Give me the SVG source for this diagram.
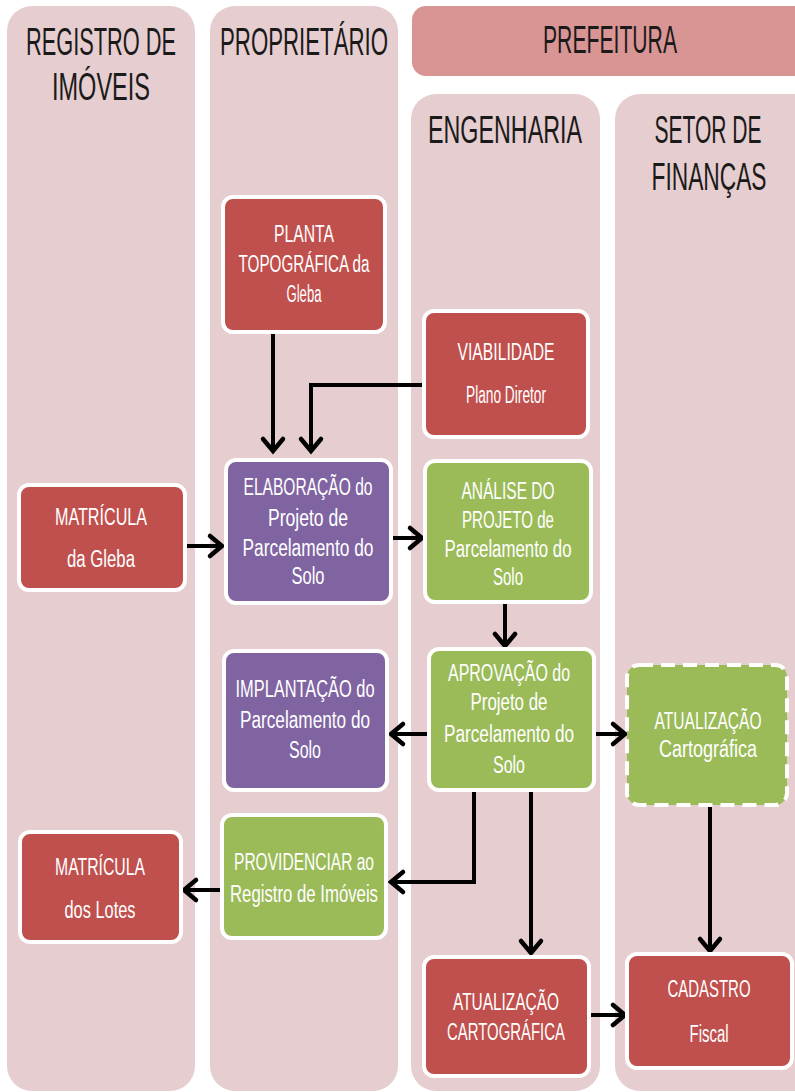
<svg xmlns="http://www.w3.org/2000/svg" width="795" height="1092" viewBox="0 0 795 1092">
<style>
.lane{fill:#e6cdcf}
.hdr{fill:#d99594}
.ht{font-family:"Liberation Sans Narrow","Liberation Sans",sans-serif;font-size:28px;fill:#1a1a1a;text-anchor:middle}
.node rect{stroke:#fff;stroke-width:4}
.red{fill:#c0504d}
.green{fill:#9bbb59}
.purple{fill:#8064a2}
.dash{stroke-dasharray:14 8}
.nt{font-family:"Liberation Sans Narrow","Liberation Sans",sans-serif;font-size:20px;fill:#fff;text-anchor:middle}
.c{fill:none;stroke:#000;stroke-width:4;marker-end:url(#ah)}
</style>
<defs>
<marker id="ah" markerUnits="userSpaceOnUse" markerWidth="30" markerHeight="30" refX="0" refY="0" orient="auto" overflow="visible" viewBox="-20 -15 30 30">
<path d="M-11,-10 L1,0 L-11,10" fill="none" stroke="#000" stroke-width="4.5" stroke-linecap="round" stroke-linejoin="miter"/>
</marker>
</defs>
<rect width="795" height="1092" fill="#fff"/>
<g id="lanes">
<rect class="lane" x="7" y="6" width="188" height="1085" rx="25"/>
<rect class="lane" x="210" y="6" width="188" height="1085" rx="25"/>
<rect class="hdr" x="412" y="6" width="400" height="70" rx="14"/>
<rect class="lane" x="411" y="94" width="189" height="997" rx="25"/>
<rect class="lane" x="615" y="94" width="210" height="997" rx="25"/>
<text class="ht" transform="translate(101,55) scale(1,1.4)" textLength="150" lengthAdjust="spacingAndGlyphs">REGISTRO DE</text>
<text class="ht" transform="translate(101,100) scale(1,1.4)" textLength="98" lengthAdjust="spacingAndGlyphs">IMÓVEIS</text>
<text class="ht" transform="translate(304,55) scale(1,1.4)" textLength="168" lengthAdjust="spacingAndGlyphs">PROPRIETÁRIO</text>
<text class="ht" transform="translate(610,53) scale(1,1.4)" textLength="134" lengthAdjust="spacingAndGlyphs">PREFEITURA</text>
<text class="ht" transform="translate(505,143) scale(1,1.4)" textLength="154" lengthAdjust="spacingAndGlyphs">ENGENHARIA</text>
<text class="ht" transform="translate(708,143) scale(1,1.4)" textLength="107" lengthAdjust="spacingAndGlyphs">SETOR DE</text>
<text class="ht" transform="translate(709,190) scale(1,1.4)" textLength="115" lengthAdjust="spacingAndGlyphs">FINANÇAS</text>
</g>
<g id="connectors">
<path class="c" d="M273,333 V450"/>
<path class="c" d="M424,385 H311 V450"/>
<path class="c" d="M185,546 H221"/>
<path class="c" d="M391,538 H421"/>
<path class="c" d="M505,602 V645"/>
<path class="c" d="M429,734 H392"/>
<path class="c" d="M594,734 H624"/>
<path class="c" d="M474,790 V882 H392"/>
<path class="c" d="M531,790 V952"/>
<path class="c" d="M710,805 V950"/>
<path class="c" d="M222,890 H185"/>
<path class="c" d="M589,1015 H624"/>
</g>
<g id="n-planta" class="node">
<rect class="red" x="223" y="197" width="162" height="135" rx="10"/>
<text class="nt" transform="translate(304,242) scale(1,1.15)" textLength="60" lengthAdjust="spacingAndGlyphs">PLANTA</text>
<text class="nt" transform="translate(304,272) scale(1,1.15)" textLength="131" lengthAdjust="spacingAndGlyphs">TOPOGRÁFICA da</text>
<text class="nt" transform="translate(304,302) scale(1,1.15)" textLength="35" lengthAdjust="spacingAndGlyphs">Gleba</text>
</g>
<g id="n-viabilidade" class="node">
<rect class="red" x="424" y="311" width="164" height="126" rx="10"/>
<text class="nt" transform="translate(506,360) scale(1,1.15)" textLength="97" lengthAdjust="spacingAndGlyphs">VIABILIDADE</text>
<text class="nt" transform="translate(506,403) scale(1,1.15)" textLength="80" lengthAdjust="spacingAndGlyphs">Plano Diretor</text>
</g>
<g id="n-matricula-gleba" class="node">
<rect class="red" x="19" y="485" width="166" height="105" rx="10"/>
<text class="nt" transform="translate(101,525) scale(1,1.15)" textLength="92" lengthAdjust="spacingAndGlyphs">MATRÍCULA</text>
<text class="nt" transform="translate(101,567) scale(1,1.15)" textLength="68" lengthAdjust="spacingAndGlyphs">da Gleba</text>
</g>
<g id="n-elaboracao" class="node">
<rect class="purple" x="226" y="460" width="165" height="143" rx="10"/>
<text class="nt" transform="translate(308,495) scale(1,1.15)" textLength="129" lengthAdjust="spacingAndGlyphs">ELABORAÇÃO do</text>
<text class="nt" transform="translate(308,526) scale(1,1.15)" textLength="80" lengthAdjust="spacingAndGlyphs">Projeto de</text>
<text class="nt" transform="translate(308,556) scale(1,1.15)" textLength="131" lengthAdjust="spacingAndGlyphs">Parcelamento do</text>
<text class="nt" transform="translate(308,584) scale(1,1.15)" textLength="33" lengthAdjust="spacingAndGlyphs">Solo</text>
</g>
<g id="n-analise" class="node">
<rect class="green" x="425" y="461" width="166" height="141" rx="10"/>
<text class="nt" transform="translate(508,499) scale(1,1.15)" textLength="93" lengthAdjust="spacingAndGlyphs">ANÁLISE DO</text>
<text class="nt" transform="translate(508,528) scale(1,1.15)" textLength="92" lengthAdjust="spacingAndGlyphs">PROJETO de</text>
<text class="nt" transform="translate(508,557) scale(1,1.15)" textLength="127" lengthAdjust="spacingAndGlyphs">Parcelamento do</text>
<text class="nt" transform="translate(508,585) scale(1,1.15)" textLength="30" lengthAdjust="spacingAndGlyphs">Solo</text>
</g>
<g id="n-aprovacao" class="node">
<rect class="green" x="429" y="649" width="165" height="141" rx="10"/>
<text class="nt" transform="translate(509,681) scale(1,1.15)" textLength="122" lengthAdjust="spacingAndGlyphs">APROVAÇÃO do</text>
<text class="nt" transform="translate(509,710) scale(1,1.15)" textLength="77" lengthAdjust="spacingAndGlyphs">Projeto de</text>
<text class="nt" transform="translate(509,742) scale(1,1.15)" textLength="130" lengthAdjust="spacingAndGlyphs">Parcelamento do</text>
<text class="nt" transform="translate(509,773) scale(1,1.15)" textLength="32" lengthAdjust="spacingAndGlyphs">Solo</text>
</g>
<g id="n-implantacao" class="node">
<rect class="purple" x="224" y="651" width="163" height="139" rx="10"/>
<text class="nt" transform="translate(305,697) scale(1,1.15)" textLength="139" lengthAdjust="spacingAndGlyphs">IMPLANTAÇÃO do</text>
<text class="nt" transform="translate(305,728) scale(1,1.15)" textLength="130" lengthAdjust="spacingAndGlyphs">Parcelamento do</text>
<text class="nt" transform="translate(305,758) scale(1,1.15)" textLength="32" lengthAdjust="spacingAndGlyphs">Solo</text>
</g>
<g id="n-atualizacao-cart" class="node">
<rect class="green dash" x="627" y="665" width="160" height="140" rx="12"/>
<text class="nt" transform="translate(708,729) scale(1,1.15)" textLength="107" lengthAdjust="spacingAndGlyphs">ATUALIZAÇÃO</text>
<text class="nt" transform="translate(708,757) scale(1,1.15)" textLength="98" lengthAdjust="spacingAndGlyphs">Cartográfica</text>
</g>
<g id="n-providenciar" class="node">
<rect class="green" x="222" y="815" width="164" height="123" rx="10"/>
<text class="nt" transform="translate(304,870) scale(1,1.15)" textLength="140" lengthAdjust="spacingAndGlyphs">PROVIDENCIAR ao</text>
<text class="nt" transform="translate(304,902) scale(1,1.15)" textLength="148" lengthAdjust="spacingAndGlyphs">Registro de Imóveis</text>
</g>
<g id="n-matricula-lotes" class="node">
<rect class="red" x="20" y="832" width="161" height="110" rx="10"/>
<text class="nt" transform="translate(100,875) scale(1,1.15)" textLength="90" lengthAdjust="spacingAndGlyphs">MATRÍCULA</text>
<text class="nt" transform="translate(100,918) scale(1,1.15)" textLength="71" lengthAdjust="spacingAndGlyphs">dos Lotes</text>
</g>
<g id="n-atualizacao-cartografica" class="node">
<rect class="red" x="424" y="957" width="165" height="119" rx="10"/>
<text class="nt" transform="translate(506,1010) scale(1,1.15)" textLength="106" lengthAdjust="spacingAndGlyphs">ATUALIZAÇÃO</text>
<text class="nt" transform="translate(506,1040) scale(1,1.15)" textLength="118" lengthAdjust="spacingAndGlyphs">CARTOGRÁFICA</text>
</g>
<g id="n-cadastro" class="node">
<rect class="red" x="627" y="954" width="165" height="114" rx="10"/>
<text class="nt" transform="translate(709,997) scale(1,1.15)" textLength="83" lengthAdjust="spacingAndGlyphs">CADASTRO</text>
<text class="nt" transform="translate(709,1042) scale(1,1.15)" textLength="39" lengthAdjust="spacingAndGlyphs">Fiscal</text>
</g>
</svg>
